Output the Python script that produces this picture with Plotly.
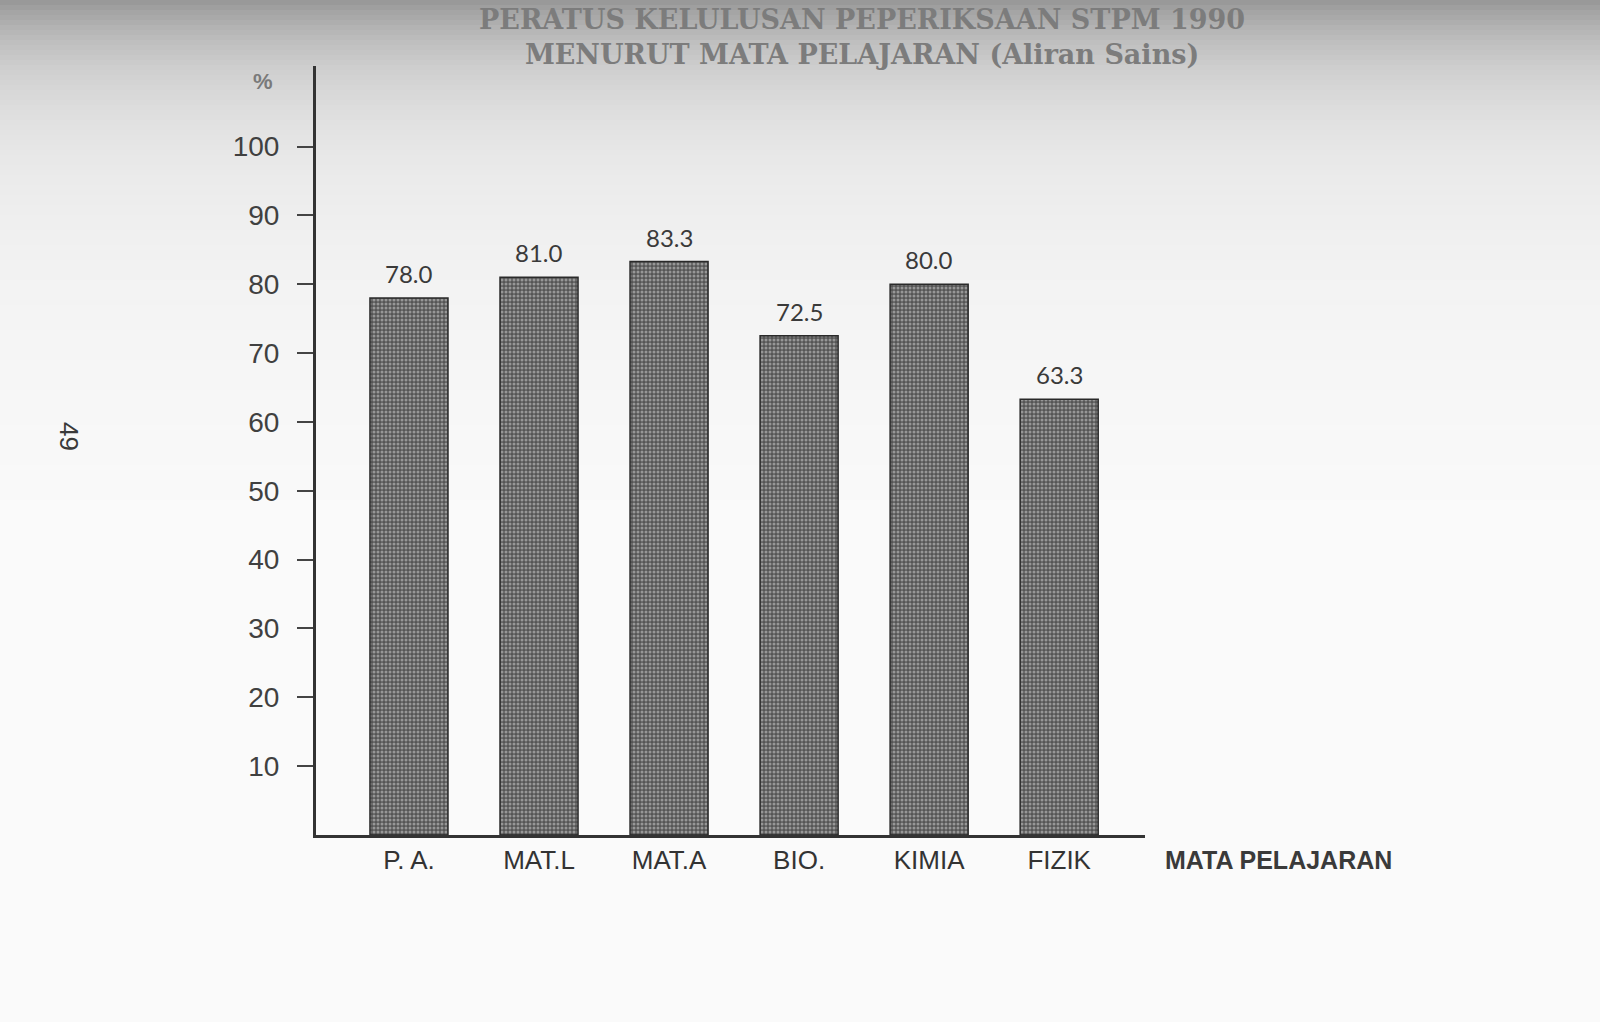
import math
import plotly.graph_objects as go

subjects = ["P. A.", "MAT.L", "MAT.A", "BIO.", "KIMIA", "FIZIK"]
percent = [78.0, 81.0, 83.3, 72.5, 80.0, 63.3]
y_ticks = [10, 20, 30, 40, 50, 60, 70, 80, 90, 100]
title_text = ("PERATUS KELULUSAN PEPERIKSAAN STPM 1990<br>"
              "MENURUT MATA PELAJARAN (Aliran Sains)")

W, H = 1600, 1022
ML, MR, MT, MB = 316, 455, 66, 187
PH = H - MT - MB
PW = W - ML - MR


def py(p):
    return (H - MB - p) / PH


def px(p):
    return (p - ML) / PW


fig = go.Figure()
fig.add_trace(go.Bar(
    x=subjects, y=percent,
    cliponaxis=False,
    marker=dict(
        color="#555555",
        line=dict(color="#2a2a2a", width=1.5),
        pattern=dict(shape=".", bgcolor="#555555", fgcolor="#d9d9d9",
                     size=4, solidity=0.45),
    ),
    width=0.6,
))

annotations = []
for s, v in zip(subjects, percent):
    annotations.append(dict(x=s, y=v, text=f"{v:.1f}", showarrow=False,
                            yanchor="bottom", yshift=8,
                            font=dict(family="Lato, Liberation Sans", size=24,
                                      color="#3a3a3a")))

annotations += [
    dict(text="%", xref="paper", yref="paper", x=px(263), y=py(82),
         xanchor="center", yanchor="middle", showarrow=False,
         font=dict(family="Liberation Sans", size=22, color="#7a7a7a", weight="bold")),
    dict(text="MATA PELAJARAN", xref="paper", yref="paper", x=px(1278), y=py(860),
         xanchor="center", yanchor="middle", showarrow=False,
         font=dict(family="Liberation Sans", size=25, color="#3a3a3a", weight="bold")),
    dict(text=title_text, xref="paper", yref="paper", x=px(862), y=py(37),
         xanchor="center", yanchor="middle", showarrow=False,
         font=dict(family="DejaVu Serif", size=27, color="#7c7c7c", weight="bold")),
    dict(text="49", xref="paper", yref="paper", x=px(69), y=py(437),
         xanchor="center", yanchor="middle", showarrow=False, textangle=90,
         font=dict(family="Liberation Sans", size=26, color="#3a3a3a")),
]

# scan shading: darker at the top of the page, fading downward
shapes = []
step = 5
for y0 in range(0, 520, step):
    yc = y0 + step / 2
    d = 0.35 * math.exp(-yc / 70) + 0.05 * max(0.0, 1 - yc / 520)
    shapes.append(dict(type="rect", xref="paper", yref="paper",
                       x0=px(-5), x1=px(W + 5), y0=py(y0 + step), y1=py(y0 - (5 if y0 == 0 else 0)),
                       fillcolor="#000000", opacity=d, line_width=0,
                       layer="below"))

fig.update_layout(
    width=W, height=H,
    paper_bgcolor="#fafafa", plot_bgcolor="rgba(0,0,0,0)",
    margin=dict(l=ML, r=MR, t=MT, b=MB),
    showlegend=False,
    bargap=0.4,
    shapes=shapes,
    annotations=annotations,
    xaxis=dict(
        range=[-0.715, 5.66], showline=True, linecolor="#333333", linewidth=3,
        ticks="", showgrid=False, zeroline=False,
        tickfont=dict(family="Liberation Sans, Arial", size=26, color="#333333"),
        ticklabelstandoff=0,
    ),
    yaxis=dict(
        range=[0, 111.7], showline=True, linecolor="#333333", linewidth=3,
        tickvals=y_ticks, ticktext=[str(t) for t in y_ticks],
        ticks="outside", ticklen=16, tickwidth=2, tickcolor="#444444",
        showgrid=False, zeroline=False, ticklabelstandoff=12,
        tickfont=dict(family="Liberation Sans, Arial", size=28, color="#404040"),
    ),
)

fig.write_html("out.html", config={"displayModeBar": False},
               post_script="document.body.style.margin='0';document.body.style.overflow='hidden';")
